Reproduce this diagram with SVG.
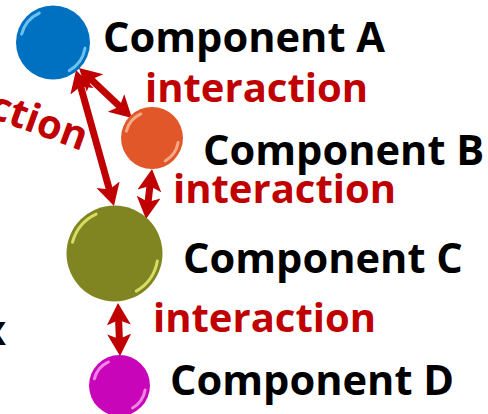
<svg xmlns="http://www.w3.org/2000/svg" width="488" height="414" viewBox="0 0 488 414">
  <style>
    .lbl { font-family: "Open Sans", "Liberation Sans", sans-serif; font-weight: bold; font-size: 41.6px; fill: #000; }
    .rel { font-family: "Open Sans", "Liberation Sans", sans-serif; font-weight: bold; font-size: 40px; fill: #C00000; }
    .arrow { stroke: #C00000; stroke-width: 7; fill: none; marker-start: url(#head); marker-end: url(#head); }
    .gloss { fill: none; stroke-width: 3; stroke-linecap: round; opacity: 0.85; filter: url(#soft); }
  </style>
  <defs>
    <marker id="head" markerUnits="userSpaceOnUse" viewBox="0 -13 23 26" refX="11" refY="0" markerWidth="23" markerHeight="26" orient="auto-start-reverse">
      <path d="M0,-12 L22,0 L0,12 L5,0 z" fill="#C00000"/>
    </marker>
    <filter id="soft" x="-20%" y="-20%" width="140%" height="140%">
      <feGaussianBlur stdDeviation="0.7"/>
    </filter>
  </defs>
  <rect width="488" height="414" fill="#fff"/>

  <g id="connectors">
    <line class="arrow" x1="87" y1="75.5" x2="124" y2="110.5"/>
    <line class="arrow" x1="79" y1="80.6" x2="111" y2="195.4"/>
    <line class="arrow" x1="150.7" y1="180" x2="147.3" y2="208"/>
    <line class="arrow" x1="118.4" y1="314" x2="119.6" y2="345"/>
  </g>

  <g id="nodeA">
    <circle cx="53" cy="42.5" r="37" fill="#0070C0"/>
    <path class="gloss" stroke="#7FD0F8" d="M21.61,34.09 A32.5 32.5 0 0 1 39.27,13.05 M85.01,48.14 A32.5 32.5 0 0 1 69.25,70.65"/>
    <text class="lbl" x="103" y="52">Component A</text>
  </g>

  <g id="nodeB">
    <circle cx="152" cy="138" r="31" fill="#E2572A"/>
    <path class="gloss" stroke="#F9B896" d="M126.40,131.14 A26.5 26.5 0 0 1 140.80,113.98 M178.10,142.60 A26.5 26.5 0 0 1 165.25,160.95"/>
    <text class="lbl" x="203" y="165">Component B</text>
  </g>

  <g id="nodeC">
    <circle cx="114.5" cy="253.5" r="48" fill="#808421"/>
    <path class="gloss" stroke="#E6EC70" d="M72.48,242.24 A43.5 43.5 0 0 1 96.12,214.08 M157.34,261.05 A43.5 43.5 0 0 1 136.25,291.17"/>
    <text class="lbl" x="183" y="273">Component C</text>
  </g>

  <g id="nodeD">
    <circle cx="119.5" cy="385.5" r="30.5" fill="#C805B8"/>
    <path class="gloss" stroke="#F69BEF" d="M94.39,378.77 A26 26 0 0 1 108.51,361.94 M145.10,390.01 A26 26 0 0 1 132.5,408.02"/>
    <text class="lbl" x="170" y="395">Component D</text>
  </g>

  <g id="labels">
    <text class="rel" x="145" y="102">interaction</text>
    <text class="rel" x="173" y="203">interaction</text>
    <text class="rel" x="153" y="332">interaction</text>
    <text class="rel" text-anchor="end" transform="translate(82,151) rotate(20)">interaction</text>
    <text class="lbl" text-anchor="end" x="6" y="345">x</text>
  </g>
</svg>
